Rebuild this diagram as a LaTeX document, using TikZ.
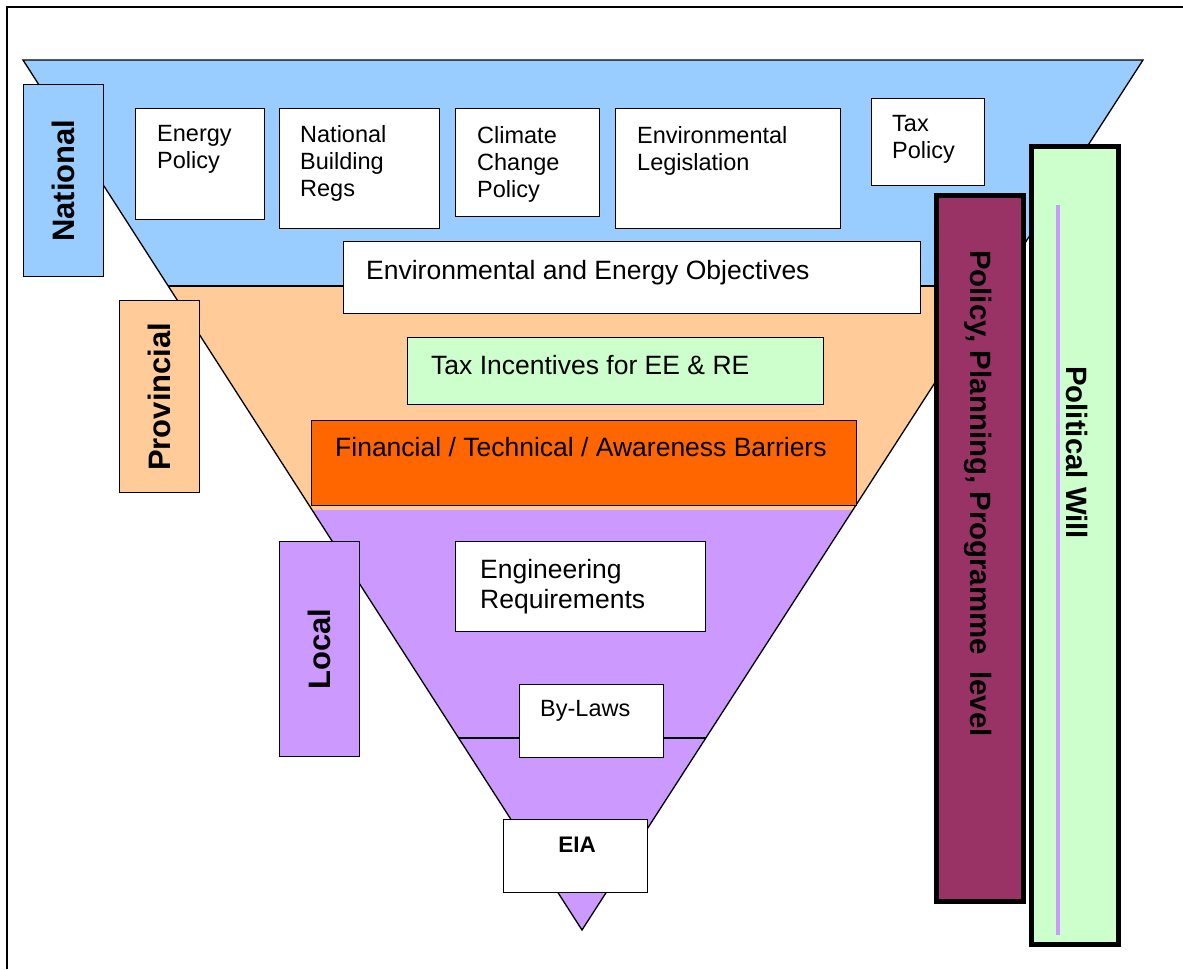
\documentclass[tikz,border=0pt]{standalone}
\usepackage{fontspec}
\setmainfont{Liberation Sans}
\usetikzlibrary{calc}
\definecolor{natblue}{HTML}{99CCFF}
\definecolor{provpeach}{HTML}{FFCC99}
\definecolor{locpurple}{HTML}{CC99FF}
\definecolor{barrier}{HTML}{FF6600}
\definecolor{mint}{HTML}{CCFFCC}
\definecolor{maroonbar}{HTML}{993366}
\begin{document}
\begin{tikzpicture}[x=1pt,y=-1pt,
 box/.style={draw, line width=1.3pt, fill=white, inner sep=0pt, anchor=north west},
 txt/.style={anchor=north west, inner sep=0pt, align=left, font=\fontsize{23.5}{27}\selectfont},
 txtbig/.style={anchor=north west, inner sep=0pt, align=left, font=\fontsize{26.5}{30}\selectfont},
 lbl/.style={draw, line width=1.3pt, inner sep=0pt, anchor=north west, minimum width=80pt},
 lbltxt/.style={inner sep=0pt, rotate=90, font=\fontsize{31}{36}\selectfont\bfseries},
 thickbar/.style={draw, line width=5pt, inner sep=0pt, anchor=north west, minimum width=87pt},
 vtxt/.style={inner sep=0pt, rotate=-90, anchor=base west, font=\fontsize{29.4}{34}\selectfont\bfseries}
]
\useasboundingbox (0,0) rectangle (1183,969);
\fill[white] (0,0) rectangle (1183,969);
\draw[line width=2pt] (7,969) -- (7,7) -- (1183,7);

% funnel
\coordinate (A) at (23,60);
\coordinate (B) at (1143,60);
\coordinate (T) at (582,930);
\coordinate (L1) at ($(A)!0.2598!(T)$); \coordinate (R1) at ($(B)!0.2598!(T)$);
\coordinate (L2) at ($(A)!0.5172!(T)$); \coordinate (R2) at ($(B)!0.5172!(T)$);
\coordinate (L3) at ($(A)!0.7793!(T)$); \coordinate (R3) at ($(B)!0.7793!(T)$);
\fill[locpurple] (L2) -- (R2) -- (T) -- cycle;
\fill[provpeach] (L1) -- (R1) -- (R2) -- (L2) -- cycle;
\fill[natblue] (A) -- (B) -- (R1) -- (L1) -- cycle;
\draw[line width=1.3pt] (A) -- (B) -- (T) -- cycle;
\draw[line width=1.3pt] (L1) -- (R1);
\draw[line width=1.3pt] (L3) -- (R3);

% national boxes
\node[box, minimum width=129, minimum height=111] (ep) at (135,108) {};
\node[txt] (ept) at (157,125) {Energy\\Policy};
\node[box, minimum width=160, minimum height=120] (nbr) at (279,108) {};
\node[txt] (nbrt) at (300,125) {National\\Building\\Regs};
\node[box, minimum width=144, minimum height=108] (ccp) at (455,108) {};
\node[txt] (ccpt) at (477,126) {Climate\\Change\\Policy};
\node[box, minimum width=225, minimum height=120] (el) at (615,108) {};
\node[txt] (elt) at (637,126) {Environmental\\Legislation};
\node[box, minimum width=113, minimum height=87] (tp) at (871,98) {};
\node[txt] (tpt) at (892,115) {Tax\\Policy};
\node[box, minimum width=577, minimum height=72] (eeo) at (343,241) {};
\node[txtbig] (eeot) at (366,260) {Environmental and Energy Objectives};

% provincial boxes
\node[box, fill=mint, minimum width=416, minimum height=67] (tie) at (407,337) {};
\node[txtbig] (tiet) at (431,355) {Tax Incentives for EE \& RE};
\node[box, fill=barrier, minimum width=545, minimum height=85] (fin) at (311,420) {};
\node[txtbig] (fint) at (335,437) {Financial / Technical / Awareness Barriers};

% local boxes
\node[box, minimum width=250, minimum height=90] (eng) at (455,541) {};
\node[txtbig] (engt) at (480,559) {Engineering\\Requirements};
\node[box, minimum width=144, minimum height=73] (byl) at (519,684) {};
\node[txt] (bylt) at (540,700) {By-Laws};
\node[box, minimum width=144, minimum height=73] (eia) at (503,819) {};
\node[anchor=base, inner sep=0pt, font=\fontsize{22.5}{26}\selectfont\bfseries] (eiat) at (577,852) {EIA};

% level labels
\node[lbl, fill=natblue, minimum height=192] (nat) at (23,84) {};
\node[lbltxt] (natt) at (nat.center) {National};
\node[lbl, fill=provpeach, minimum height=192] (prov) at (119,300) {};
\node[lbltxt] (provt) at (prov.center) {Provincial};
\node[lbl, fill=locpurple, minimum height=215] (loc) at (279,541) {};
\node[lbltxt] (loct) at (loc.center) {Local};

% right bars
\node[thickbar, fill=maroonbar, minimum height=706] (ppp) at (934,193) {};
\node[vtxt] (pppt) at (970,250) {Policy, Planning, Programme\ \ level};
\node[thickbar, fill=mint, minimum height=798] (pw) at (1029,144) {};
\draw[locpurple, line width=3.5pt] (1058,205) -- (1058,935);
\node[vtxt] (pwt) at (1066,366) {Political Will};
\end{tikzpicture}
\end{document}
